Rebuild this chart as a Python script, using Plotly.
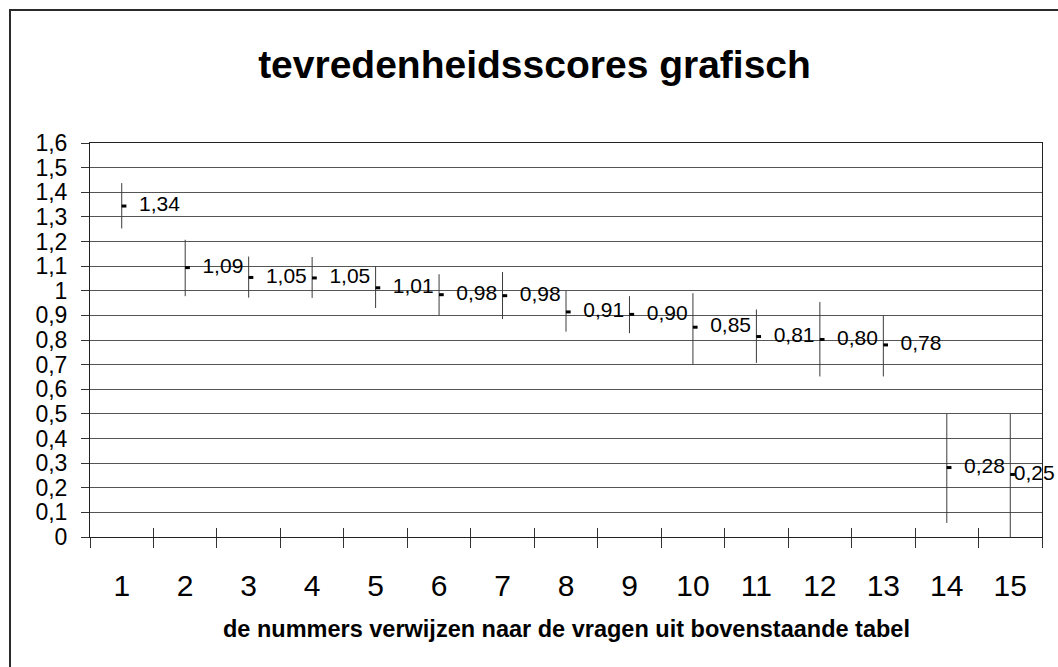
import plotly.graph_objects as go

# ---------------- data ----------------
categories = list(range(1, 16))
x_labels = [str(c) for c in categories]
high = [1.437, 1.207, 1.139, 1.137, 1.100, 1.067, 1.076, 1.000, 0.978, 0.990, 0.924, 0.954, 0.900, 0.500, 0.500]
low = [1.253, 0.978, 0.972, 0.971, 0.930, 0.900, 0.885, 0.834, 0.828, 0.700, 0.707, 0.652, 0.652, 0.057, 0.000]
close = [1.344, 1.094, 1.054, 1.052, 1.012, 0.984, 0.980, 0.914, 0.904, 0.852, 0.814, 0.802, 0.780, 0.282, 0.254]
y_range = [0, 1.6]
y_step = 0.1

title_text = "tevredenheidsscores grafisch"
xtitle_text = "de nummers verwijzen naar de vragen uit bovenstaande tabel"

# ---------------- style ----------------
W, H = 1058, 667
ML, MR, MT, MB = 90, 16, 143, 130
FONT = "Liberation Sans, Arial, sans-serif"
CLOSE_SHIFT = 0.036  # close tick drawn just right of the hi-lo line (category units)
LABEL_GAP = 26       # invisible marker size controlling label distance
LAST_LABEL_GAP = 4   # last label squeezed next to its mark (as in the original)

labels = [f"{v:.2f}".replace(".", ",") for v in close]
label_sizes = [LABEL_GAP] * (len(categories) - 1) + [LAST_LABEL_GAP]
boundaries = [c - 0.5 for c in categories] + [categories[-1] + 0.5]
x_range = [categories[0] - 0.5, categories[-1] + 0.5]

fig = go.Figure()

# high-low lines
fig.add_trace(go.Scatter(
    x=categories, y=close, mode="markers",
    marker=dict(size=2, opacity=0),
    error_y=dict(type="data", symmetric=False,
                 array=[h - c for h, c in zip(high, close)],
                 arrayminus=[c - l for c, l in zip(close, low)],
                 width=0, thickness=1, color="#3c3c3c"),
    hoverinfo="skip", showlegend=False, xaxis="x", yaxis="y"))

# close ticks
fig.add_trace(go.Scatter(
    x=[c + CLOSE_SHIFT for c in categories], y=close, mode="markers",
    marker=dict(symbol="line-ew", size=3.4, line=dict(width=3, color="#000000")),
    hoverinfo="skip", showlegend=False, xaxis="x2", yaxis="y"))

# data labels
fig.add_trace(go.Scatter(
    x=categories, y=close, mode="markers+text", text=labels,
    textposition="middle right", cliponaxis=False,
    textfont=dict(family=FONT, size=21, color="#000000"),
    marker=dict(size=label_sizes, opacity=0),
    hoverinfo="skip", showlegend=False, xaxis="x3", yaxis="y"))

axis_common = dict(range=x_range, fixedrange=True, showgrid=False, zeroline=False)

fig.update_layout(
    width=W, height=H,
    margin=dict(l=ML, r=MR, t=MT, b=MB, pad=0),
    paper_bgcolor="white", plot_bgcolor="white",
    separators=", ",
    font=dict(family=FONT, color="#000000"),
    title=dict(text=f"<b>{title_text}</b>", x=534.5 / W, xref="container", xanchor="center",
               y=1 - 64 / H, yref="container", yanchor="middle",
               font=dict(family=FONT, size=39, color="#000000")),
    xaxis=dict(**axis_common, type="linear", tickmode="array", tickvals=categories, ticktext=x_labels,
               ticks="", showline=True, linecolor="#222222", linewidth=1, mirror=True,
               tickfont=dict(family=FONT, size=30, color="#000000"), ticklabelstandoff=22),
    xaxis2=dict(**axis_common, overlaying="x", anchor="y", side="bottom", tickmode="array",
                tickvals=boundaries, ticks="outside", ticklen=10, tickwidth=1, tickcolor="#333333",
                showticklabels=False, showline=False),
    xaxis3=dict(**axis_common, overlaying="x", anchor="y", side="bottom", tickmode="array",
                tickvals=boundaries, ticks="inside", ticklen=9, tickwidth=1, tickcolor="#333333",
                showticklabels=False, showline=False),
    yaxis=dict(range=y_range, fixedrange=True, tick0=0, dtick=y_step, showgrid=True,
               gridcolor="#555555", gridwidth=1, zeroline=False,
               showline=True, linecolor="#222222", linewidth=1, mirror=True,
               ticks="outside", ticklen=8, tickcolor="#333333",
               tickfont=dict(family=FONT, size=23, color="#000000"), ticklabelstandoff=9),
    annotations=[dict(text=f"<b>{xtitle_text}</b>", xref="paper", yref="paper",
                      x=(566 - ML) / (W - ML - MR), y=(537 - 629) / (H - MT - MB),
                      xanchor="center", yanchor="middle", showarrow=False,
                      font=dict(family=FONT, size=23.5, color="#000000"))],
    shapes=[dict(type="rect", xref="paper", yref="paper",
                 x0=(10 - ML) / (W - ML - MR), x1=1.2,
                 y0=-1.0, y1=(537 - 10) / (H - MT - MB),
                 line=dict(color="#2a2a2a", width=2), fillcolor="rgba(0,0,0,0)", layer="below")],
)

fig.write_html("out.html", config={"displayModeBar": False},
               post_script="document.body.style.margin='0';document.body.style.overflow='hidden';")
